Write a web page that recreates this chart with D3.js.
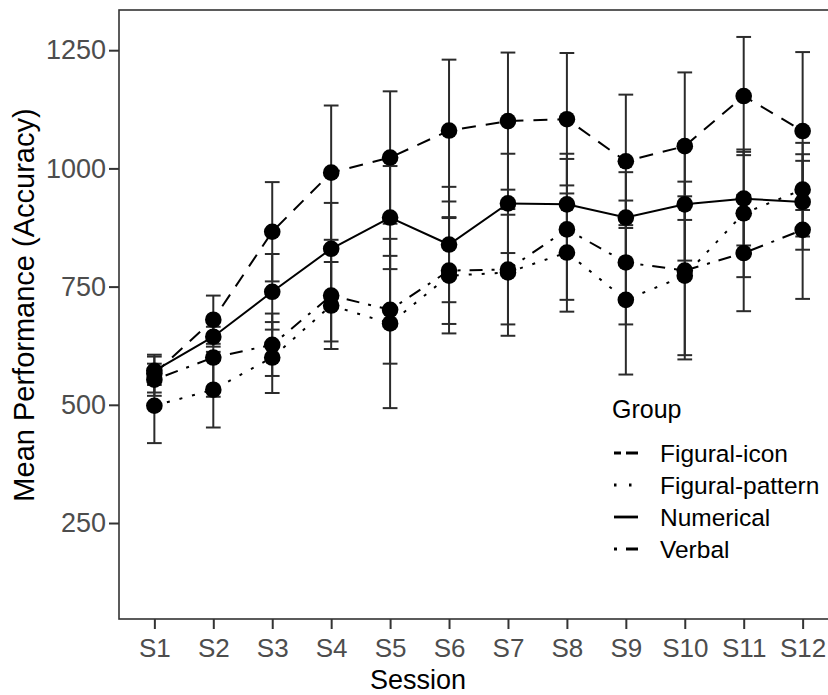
<!DOCTYPE html>
<html>
<head>
<meta charset="utf-8">
<script src="https://cdn.jsdelivr.net/npm/d3@7"></script>
<style>
  body { margin: 0; background: #fff; }
  svg { display: block; font-family: "Liberation Sans", Arial, sans-serif; }
</style>
</head>
<body>
<svg id="chart" width="828" height="695"></svg>
<script>
var sessions = ["S1", "S2", "S3", "S4", "S5", "S6", "S7", "S8", "S9", "S10", "S11", "S12"];
var groups = ["Figural-icon", "Figural-pattern", "Numerical", "Verbal"];

var figIconMean = [566, 680, 866, 991, 1023, 1080, 1100, 1104, 1015, 1047, 1153, 1079];
var figIconErr  = [40, 51, 105, 142, 140, 150, 145, 140, 141, 156, 125, 167];
var figPatternMean = [498, 532, 600, 710, 672, 773, 780, 822, 722, 773, 905, 955];
var figPatternErr  = [79, 80, 75, 92, 179, 122, 134, 125, 158, 168, 135, 99];
var numericalMean = [572, 644, 739, 830, 896, 839, 926, 924, 896, 924, 936, 929];
var numericalErr  = [30, 21, 80, 97, 109, 122, 105, 107, 96, 119, 99, 101];
var verbalMean = [553, 600, 627, 731, 701, 784, 786, 871, 801, 784, 821, 870];
var verbalErr  = [34, 83, 66, 97, 114, 113, 116, 149, 131, 188, 123, 146];

var yTicks = [250, 500, 750, 1000, 1250];

var means = [figIconMean, figPatternMean, numericalMean, verbalMean];
var errs = [figIconErr, figPatternErr, numericalErr, verbalErr];
var dashes = ["14,10", "3,10", "none", "3,9,13,9"];
var keyDashes = ["7,5,12", "2.5,12.5,2.5,10", "none", "3,9,12"];

var svg = d3.select("#chart"),
    panel = { left: 119, right: 838, top: 10, bottom: 619 },
    axisCol = "#333333",
    tickCol = "#4d4d4d";

var x = d3.scalePoint().domain(sessions)
    .range([panel.left, panel.right]).padding(0.6);
var y = d3.scaleLinear().domain([47, 1335])
    .range([panel.bottom, panel.top]);

var capHalf = x.step() * 0.125;

// data rows per group
var series = groups.map(function(g, gi) {
    return {
        name: g,
        dash: dashes[gi],
        keyDash: keyDashes[gi],
        values: sessions.map(function(s, i) {
            return { s: s, m: means[gi][i], e: errs[gi][i] };
        })
    };
});

var plot = svg.append("g");

// error bars
series.forEach(function(d) {
    var eb = plot.append("g").selectAll("g").data(d.values).enter().append("g")
        .attr("stroke", "#2b2b2b").attr("stroke-width", 2);
    eb.append("line")
        .attr("x1", function(v) { return x(v.s); })
        .attr("x2", function(v) { return x(v.s); })
        .attr("y1", function(v) { return y(v.m + v.e); })
        .attr("y2", function(v) { return y(v.m - v.e); });
    eb.append("line")
        .attr("x1", function(v) { return x(v.s) - capHalf; })
        .attr("x2", function(v) { return x(v.s) + capHalf; })
        .attr("y1", function(v) { return y(v.m + v.e); })
        .attr("y2", function(v) { return y(v.m + v.e); });
    eb.append("line")
        .attr("x1", function(v) { return x(v.s) - capHalf; })
        .attr("x2", function(v) { return x(v.s) + capHalf; })
        .attr("y1", function(v) { return y(v.m - v.e); })
        .attr("y2", function(v) { return y(v.m - v.e); });
});

// lines
var line = d3.line()
    .x(function(v) { return x(v.s); })
    .y(function(v) { return y(v.m); });

plot.selectAll("path.series").data(series).enter().append("path")
    .attr("class", "series")
    .attr("d", function(d) { return line(d.values); })
    .attr("fill", "none")
    .attr("stroke", "#000")
    .attr("stroke-width", 2)
    .attr("stroke-dasharray", function(d) { return d.dash; });

// points
series.forEach(function(d) {
    plot.append("g").selectAll("circle").data(d.values).enter().append("circle")
        .attr("cx", function(v) { return x(v.s); })
        .attr("cy", function(v) { return y(v.m); })
        .attr("r", 8.3)
        .attr("fill", "#000");
});

// panel border
svg.append("rect")
    .attr("x", panel.left).attr("y", panel.top)
    .attr("width", panel.right - panel.left)
    .attr("height", panel.bottom - panel.top)
    .attr("fill", "none").attr("stroke", axisCol).attr("stroke-width", 1.6);

// y axis
var yAxis = svg.append("g")
    .attr("transform", "translate(" + panel.left + ",0)")
    .call(d3.axisLeft(y).tickValues(yTicks).tickFormat(d3.format("d"))
        .tickSize(10).tickPadding(3));
yAxis.select(".domain").remove();
yAxis.selectAll(".tick line").attr("stroke", axisCol).attr("stroke-width", 2);
yAxis.selectAll(".tick text")
    .attr("fill", tickCol).style("font-size", "27px")
    .style("font-family", "'Liberation Sans', Arial, sans-serif");

// x axis
var xAxis = svg.append("g")
    .attr("transform", "translate(0," + panel.bottom + ")")
    .call(d3.axisBottom(x).tickSize(10).tickPadding(10));
xAxis.select(".domain").remove();
xAxis.selectAll(".tick line").attr("stroke", axisCol).attr("stroke-width", 2);
xAxis.selectAll(".tick text")
    .attr("fill", tickCol).style("font-size", "26px")
    .style("font-family", "'Liberation Sans', Arial, sans-serif");

// axis titles
svg.append("text")
    .attr("x", 418)
    .attr("y", 688.5)
    .attr("text-anchor", "middle")
    .style("font-size", "27px")
    .text("Session");

svg.append("text")
    .attr("transform", "translate(34,305) rotate(-90)")
    .attr("text-anchor", "middle")
    .style("font-size", "29px")
    .text("Mean Performance (Accuracy)");

// legend
var legend = svg.append("g").attr("transform", "translate(612,418)");
legend.append("text").attr("x", 0).attr("y", 0)
    .style("font-size", "25px").text("Group");

var item = legend.selectAll("g.item").data(series).enter().append("g")
    .attr("class", "item")
    .attr("transform", function(d, i) { return "translate(0," + (35 + i * 32) + ")"; });
item.append("line")
    .attr("x1", 2).attr("x2", 26).attr("y1", 0).attr("y2", 0)
    .attr("stroke", "#000").attr("stroke-width", 2.8)
    .attr("stroke-dasharray", function(d) { return d.keyDash; });
item.append("text")
    .attr("x", 48).attr("y", 8.7)
    .style("font-size", "24.5px")
    .text(function(d) { return d.name; });
</script>
</body>
</html>
